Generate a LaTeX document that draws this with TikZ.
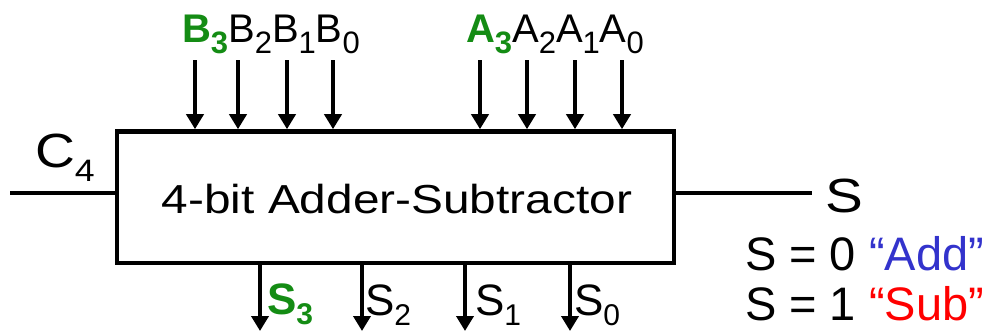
\documentclass[tikz,border=0pt]{standalone}
\usepackage{fontspec}
\setmainfont{Liberation Sans}
\usetikzlibrary{arrows.meta}
\definecolor{bitgreen}{RGB}{20,140,20}
\definecolor{addblue}{RGB}{51,51,204}
\definecolor{subred}{RGB}{255,0,0}
% font size shorthand and a lowered subscript: drop, size, text
\newcommand\fs[1]{\fontsize{#1}{#1}\selectfont}
\newcommand\lowsub[3]{\raisebox{-#1pt}{\fs{#2}#3}}
\newcommand\topsub[1]{\lowsub{11}{31}{#1}}
\newcommand\botsub[1]{\lowsub{10}{30}{#1}}
\begin{document}
\begin{tikzpicture}[x=1pt,y=-1pt,
  wire/.style={line width=4.6pt},
  bus/.style={line width=4.6pt,-{Triangle[length=15pt,width=17pt]}},
  lbl/.style={inner sep=0pt,outer sep=0pt,anchor=base west}]
\useasboundingbox (0,0) rectangle (988,332);

% the adder-subtractor block
\node[draw,line width=4.6pt,minimum width=557pt,minimum height=131.5pt,inner sep=0pt]
  (box) at (395.5,197.25) {};
\node[anchor=base,inner sep=0pt] (title) at (397,213)
  {\scalebox{1.18}[1]{\fs{40.5}4-bit Adder-Subtractor}};

% operand inputs B3..B0 and A3..A0
\foreach \n/\x in {b3/195,b2/238,b1/287,b0/333,a3/480,a2/527,a1/575,a0/622}{
  \coordinate (\n) at (\x,60);
  \draw[bus] (\n) -- (\n |- box.north);
}
\node[lbl] (blab) at (182,42) {\fs{40}\textcolor{bitgreen}{\bfseries B\topsub{3}}B\topsub{2}B\topsub{1}B\topsub{0}};
\node[lbl] (alab) at (466,42) {\fs{40}\textcolor{bitgreen}{\bfseries A\topsub{3}}A\topsub{2}A\topsub{1}A\topsub{0}};

% sum outputs S3..S0
\foreach \n/\x in {s3/260,s2/362,s1/465,s0/570}{
  \coordinate (\n) at (\x,331);
  \draw[bus] (\n |- box.south) -- (\n);
}
\node[lbl] (s3l) at (267,314) {\fs{44}\textcolor{bitgreen}{\bfseries S\botsub{3}}};
\node[lbl] (s2l) at (365,315) {\fs{44}S\botsub{2}};
\node[lbl] (s1l) at (475,315) {\fs{44}S\botsub{1}};
\node[lbl] (s0l) at (574,315) {\fs{44}S\botsub{0}};

% carry out
\coordinate (cout) at (10,193);
\draw[wire] (cout) -- (cout -| box.west);
\node[lbl] (coutl) at (35,167) {\scalebox{1.15}[1]{\fs{48}C\lowsub{14}{31}{4}}};

% mode select
\coordinate (sel) at (812,193);
\draw[wire] (box.east |- sel) -- (sel);
\node[lbl] (sell) at (825,212) {\scalebox{1.18}[1]{\fs{48}S}};
\node[lbl] (mode0) at (745,270) {\fs{47}S = 0 \textcolor{addblue}{“Add”}};
\node[lbl] (mode1) at (745,320) {\fs{47}S = 1 \textcolor{subred}{“Sub”}};
\end{tikzpicture}
\end{document}
